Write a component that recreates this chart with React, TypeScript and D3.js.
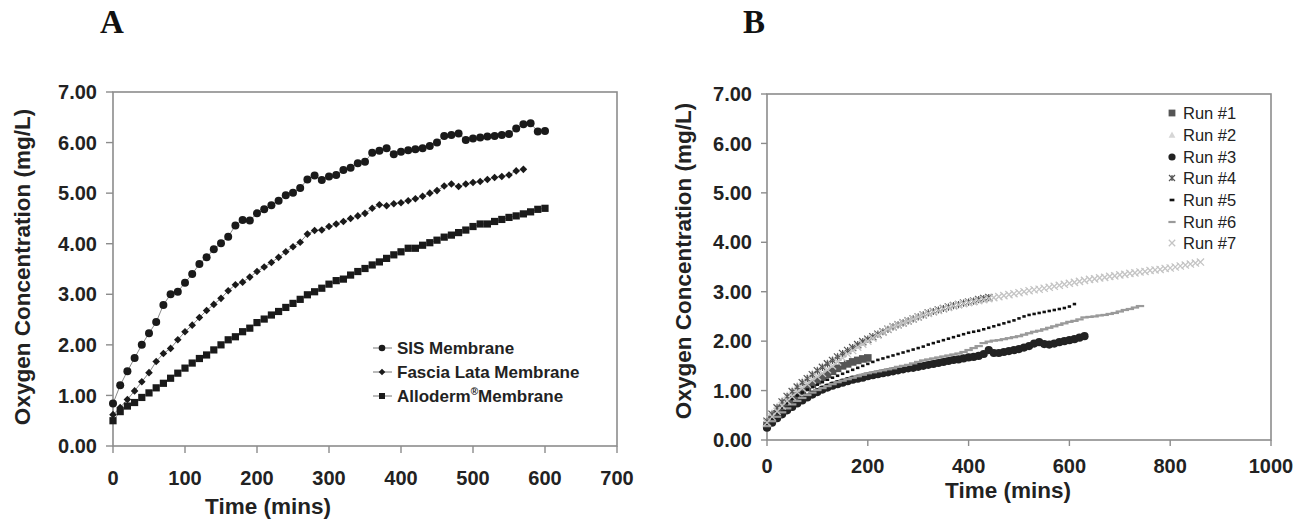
import React from 'react';
import * as d3 from 'd3';

// ---------- Panel A data (10-min readings) ----------
const STEP_A = 10;
const sisMembrane = [0.84,1.20,1.48,1.74,2.00,2.23,2.45,2.79,3.00,3.05,3.23,3.40,3.60,3.73,3.89,4.01,4.14,4.36,4.47,4.46,4.60,4.68,4.76,4.85,4.96,5.01,5.10,5.27,5.35,5.26,5.33,5.36,5.46,5.50,5.59,5.62,5.80,5.84,5.89,5.77,5.82,5.85,5.87,5.89,5.93,6.00,6.13,6.15,6.18,6.05,6.08,6.10,6.12,6.13,6.15,6.17,6.28,6.36,6.38,6.22,6.23];
const fasciaLata = [0.62,0.76,0.92,1.09,1.27,1.45,1.67,1.83,1.93,2.10,2.26,2.39,2.54,2.68,2.80,2.92,3.07,3.19,3.24,3.34,3.45,3.54,3.63,3.73,3.84,3.94,4.03,4.19,4.26,4.27,4.34,4.39,4.44,4.50,4.55,4.60,4.70,4.77,4.75,4.79,4.81,4.85,4.89,4.94,5.00,5.05,5.14,5.18,5.13,5.18,5.21,5.23,5.27,5.31,5.33,5.36,5.44,5.47];
const alloderm = [0.50,0.68,0.79,0.86,0.96,1.05,1.15,1.24,1.34,1.44,1.54,1.64,1.73,1.80,1.90,2.00,2.10,2.16,2.26,2.33,2.44,2.51,2.59,2.66,2.74,2.82,2.90,2.99,3.05,3.12,3.20,3.27,3.30,3.38,3.45,3.51,3.58,3.64,3.71,3.78,3.84,3.91,3.91,3.97,4.02,4.07,4.13,4.17,4.22,4.27,4.34,4.39,4.39,4.44,4.48,4.52,4.55,4.59,4.63,4.68,4.70];
const xTicksA = [0,100,200,300,400,500,600,700];
const yTicks = [0,1,2,3,4,5,6,7];

// ---------- Panel B data (10-min readings) ----------
const STEP_B = 10;
const run1 = [0.30,0.42,0.53,0.63,0.73,0.82,0.90,0.98,1.06,1.13,1.20,1.27,1.33,1.39,1.45,1.50,1.54,1.58,1.61,1.64,1.66];
const run2 = [0.42,0.56,0.69,0.81,0.92,1.02,1.11,1.20,1.28,1.36,1.43,1.50,1.57,1.64,1.70,1.76,1.82,1.87,1.92,1.97,2.02];
const run3 = [0.25,0.35,0.44,0.52,0.60,0.67,0.74,0.80,0.86,0.92,0.97,1.02,1.06,1.10,1.13,1.16,1.19,1.22,1.24,1.26,1.29,1.31,1.33,1.35,1.37,1.39,1.41,1.43,1.45,1.46,1.48,1.50,1.52,1.54,1.56,1.58,1.60,1.62,1.63,1.65,1.67,1.68,1.70,1.74,1.82,1.76,1.76,1.78,1.80,1.82,1.84,1.87,1.90,1.95,1.98,1.94,1.93,1.95,1.98,2.00,2.02,2.04,2.07,2.10];
const run4 = [0.38,0.52,0.65,0.77,0.88,0.98,1.07,1.16,1.24,1.32,1.40,1.47,1.54,1.61,1.68,1.75,1.81,1.87,1.93,1.99,2.04,2.09,2.14,2.19,2.24,2.29,2.33,2.37,2.41,2.45,2.49,2.53,2.57,2.60,2.63,2.66,2.69,2.72,2.74,2.77,2.79,2.81,2.84,2.86,2.88];
const run5 = [0.32,0.45,0.56,0.66,0.75,0.83,0.90,0.96,1.02,1.07,1.12,1.17,1.22,1.26,1.30,1.34,1.38,1.42,1.46,1.50,1.54,1.58,1.62,1.65,1.68,1.71,1.74,1.77,1.80,1.83,1.86,1.89,1.93,1.96,1.99,2.02,2.05,2.08,2.11,2.14,2.17,2.19,2.21,2.24,2.27,2.30,2.33,2.36,2.39,2.42,2.46,2.50,2.53,2.55,2.57,2.59,2.61,2.63,2.65,2.67,2.70,2.75];
const run6 = [0.28,0.38,0.47,0.56,0.64,0.72,0.79,0.85,0.91,0.96,1.01,1.05,1.09,1.13,1.17,1.20,1.23,1.26,1.29,1.32,1.35,1.37,1.39,1.41,1.43,1.45,1.48,1.50,1.52,1.55,1.58,1.61,1.63,1.65,1.67,1.69,1.71,1.73,1.75,1.78,1.82,1.86,1.90,1.96,1.99,2.01,2.02,2.04,2.06,2.08,2.10,2.13,2.16,2.19,2.21,2.24,2.27,2.30,2.33,2.36,2.39,2.41,2.44,2.48,2.49,2.50,2.52,2.53,2.55,2.57,2.60,2.63,2.65,2.68,2.71];
const run7 = [0.35,0.47,0.58,0.69,0.79,0.88,0.97,1.05,1.13,1.21,1.28,1.35,1.42,1.50,1.58,1.66,1.74,1.81,1.88,1.94,2.00,2.06,2.12,2.18,2.24,2.29,2.33,2.37,2.41,2.45,2.49,2.53,2.56,2.59,2.62,2.65,2.68,2.71,2.74,2.76,2.78,2.80,2.82,2.84,2.86,2.88,2.90,2.92,2.94,2.96,2.98,3.00,3.02,3.04,3.05,3.07,3.09,3.11,3.13,3.15,3.17,3.19,3.21,3.23,3.25,3.26,3.28,3.29,3.31,3.32,3.34,3.35,3.37,3.38,3.40,3.41,3.43,3.44,3.45,3.47,3.48,3.50,3.52,3.54,3.56,3.58,3.60];
const runNames = ['Run #1','Run #2','Run #3','Run #4','Run #5','Run #6','Run #7'];
const xTicksB = [0,200,400,600,800,1000];

const FONT = 'Liberation Sans, Arial, Helvetica, sans-serif';
const AXIS = '#8c8c8c';

type Shape = 'circle' | 'diamond' | 'square' | 'triangle' | 'asterisk' | 'dash' | 'longdash' | 'times';

function Marker({ shape, x, y, s, color }: { shape: Shape; x: number; y: number; s: number; color: string }) {
  switch (shape) {
    case 'circle':
      return <circle cx={x} cy={y} r={s} fill={color} />;
    case 'square':
      return <rect x={x - s} y={y - s} width={2 * s} height={2 * s} fill={color} />;
    case 'diamond':
      return <path d={`M${x},${y - s}L${x + s},${y}L${x},${y + s}L${x - s},${y}Z`} fill={color} />;
    case 'triangle':
      return <path d={`M${x},${y - s}L${x + s},${y + s * 0.8}L${x - s},${y + s * 0.8}Z`} fill={color} />;
    case 'asterisk':
      return (
        <path
          d={`M${x - s},${y - s}L${x + s},${y + s}M${x + s},${y - s}L${x - s},${y + s}M${x},${y - s}L${x},${y + s}`}
          stroke={color}
          strokeWidth={1.2}
          fill="none"
        />
      );
    case 'times':
      return (
        <path d={`M${x - s},${y - s}L${x + s},${y + s}M${x + s},${y - s}L${x - s},${y + s}`} stroke={color} strokeWidth={1.3} fill="none" />
      );
    case 'dash':
      return <rect x={x - s} y={y - 1.3} width={2 * s} height={2.6} fill={color} />;
    case 'longdash':
      return <rect x={x - s} y={y - 1.1} width={2 * s} height={2.2} fill={color} />;
  }
  return null;
}

function Frame({ x0, x1, y0, y1 }: { x0: number; x1: number; y0: number; y1: number }) {
  return <rect x={x0} y={y1} width={x1 - x0} height={y0 - y1} fill="none" stroke={AXIS} strokeWidth={1.6} />;
}

export default function App() {
  const xA = d3.scaleLinear().domain([0, 700]).range([113, 617]);
  const yA = d3.scaleLinear().domain([0, 7]).range([446, 92]);
  const xB = d3.scaleLinear().domain([0, 1000]).range([767, 1271]);
  const yB = d3.scaleLinear().domain([0, 7]).range([440, 94]);
  const fmt = d3.format('.2f');

  const lineA = d3
    .line<number>()
    .x((_, i) => xA(i * STEP_A))
    .y((d) => yA(d));

  const seriesA: { name: string; data: number[]; shape: Shape; s: number; ls: number }[] = [
    { name: 'SIS', data: sisMembrane, shape: 'circle', s: 4, ls: 3.3 },
    { name: 'Fascia', data: fasciaLata, shape: 'diamond', s: 3.8, ls: 3.3 },
    { name: 'Alloderm', data: alloderm, shape: 'square', s: 3.6, ls: 3 },
  ];

  const seriesB: { data: number[]; shape: Shape; s: number; color: string; ls: number }[] = [
    { data: run1, shape: 'square', s: 3.8, color: '#555555', ls: 3.4 },
    { data: run2, shape: 'triangle', s: 3.6, color: '#d6d6d6', ls: 3.4 },
    { data: run3, shape: 'circle', s: 4.1, color: '#222222', ls: 3.6 },
    { data: run4, shape: 'asterisk', s: 3.6, color: '#555555', ls: 3 },
    { data: run5, shape: 'dash', s: 1.7, color: '#111111', ls: 2.4 },
    { data: run6, shape: 'longdash', s: 4.2, color: '#9a9a9a', ls: 3.6 },
    { data: run7, shape: 'times', s: 3.6, color: '#c4c4c4', ls: 3.2 },
  ];

  const legendAY = [348, 372, 396];
  const legendBY = [113, 135, 157, 178, 200, 222, 243];

  return (
    <svg width={1309} height={521} style={{ position: 'absolute', left: 0, top: 0, background: '#fff' }} fontFamily={FONT}>
      <rect x={0} y={0} width={1309} height={521} fill="#fff" />
      {/* Panel letters */}
      <text x={112} y={33} textAnchor="middle" fontFamily="Liberation Serif, Times New Roman, serif" fontWeight="bold" fontSize={33} fill="#111">A</text>
      <text x={754} y={33} textAnchor="middle" fontFamily="Liberation Serif, Times New Roman, serif" fontWeight="bold" fontSize={33} fill="#111">B</text>

      {/* ---------------- Panel A ---------------- */}
      <Frame x0={113} x1={617} y0={446} y1={92} />
      {yTicks.map((t) => (
        <g key={'ya' + t}>
          <line x1={106} x2={113} y1={yA(t)} y2={yA(t)} stroke={AXIS} strokeWidth={1.4} />
          <text x={97} y={yA(t)} dy="0.36em" textAnchor="end" fontWeight="bold" fontSize={20} fill="#222">{fmt(t)}</text>
        </g>
      ))}
      {xTicksA.map((t) => (
        <g key={'xa' + t}>
          <line x1={xA(t)} x2={xA(t)} y1={446} y2={453} stroke={AXIS} strokeWidth={1.4} />
          <text x={xA(t)} y={485} textAnchor="middle" fontWeight="bold" fontSize={20} fill="#222">{t}</text>
        </g>
      ))}
      <text x={268} y={514} textAnchor="middle" fontWeight="bold" fontSize={22.5} fill="#222">Time (mins)</text>
      <text transform="translate(30,267) rotate(-90)" textAnchor="middle" fontWeight="bold" fontSize={22.5} fill="#222">Oxygen Concentration (mg/L)</text>

      {seriesA.map((s) => (
        <g key={s.name}>
          <path d={lineA(s.data) || ''} fill="none" stroke="#8a8a8a" strokeWidth={1} />
          {s.data.map((v, i) => (
            <Marker key={i} shape={s.shape} x={xA(i * STEP_A)} y={yA(v)} s={s.s} color="#1a1a1a" />
          ))}
        </g>
      ))}

      {/* Legend A */}
      {seriesA.map((s, i) => (
        <g key={'la' + i}>
          <line x1={373} x2={392} y1={legendAY[i]} y2={legendAY[i]} stroke="#777" strokeWidth={1} />
          <Marker shape={s.shape} x={382} y={legendAY[i]} s={s.ls} color="#1a1a1a" />
        </g>
      ))}
      <text x={397} y={legendAY[0]} dy="0.36em" fontWeight="bold" fontSize={17} fill="#222">SIS Membrane</text>
      <text x={397} y={legendAY[1]} dy="0.36em" fontWeight="bold" fontSize={17} fill="#222">Fascia Lata Membrane</text>
      <text x={397} y={legendAY[2]} dy="0.36em" fontWeight="bold" fontSize={17} fill="#222">
        Alloderm
        <tspan fontSize={10} dy="-7">®</tspan>
        <tspan dy="7">Membrane</tspan>
      </text>

      {/* ---------------- Panel B ---------------- */}
      <Frame x0={767} x1={1271} y0={440} y1={94} />
      {yTicks.map((t) => (
        <g key={'yb' + t}>
          <line x1={761} x2={767} y1={yB(t)} y2={yB(t)} stroke={AXIS} strokeWidth={1.4} />
          <text x={752} y={yB(t)} dy="0.36em" textAnchor="end" fontWeight="bold" fontSize={20} fill="#222">{fmt(t)}</text>
        </g>
      ))}
      {xTicksB.map((t) => (
        <g key={'xb' + t}>
          <line x1={xB(t)} x2={xB(t)} y1={440} y2={446} stroke={AXIS} strokeWidth={1.4} />
          <text x={xB(t)} y={473} textAnchor="middle" fontWeight="bold" fontSize={20} fill="#222">{t}</text>
        </g>
      ))}
      <text x={1008} y={498} textAnchor="middle" fontWeight="bold" fontSize={22.5} fill="#222">Time (mins)</text>
      <text transform="translate(691,261) rotate(-90)" textAnchor="middle" fontWeight="bold" fontSize={22.5} fill="#222">Oxygen Concentration (mg/L)</text>

      {seriesB.map((s, k) => (
        <g key={'rb' + k}>
          {s.data.map((v, i) => (
            <Marker key={i} shape={s.shape} x={xB(i * STEP_B)} y={yB(v)} s={s.s} color={s.color} />
          ))}
        </g>
      ))}

      {/* Legend B */}
      {seriesB.map((s, i) => (
        <g key={'lb' + i}>
          <Marker shape={s.shape} x={1172} y={legendBY[i]} s={s.ls} color={s.color} />
          <text x={1183} y={legendBY[i]} dy="0.36em" fontSize={16.5} fill="#222">{runNames[i]}</text>
        </g>
      ))}
    </svg>
  );
}
